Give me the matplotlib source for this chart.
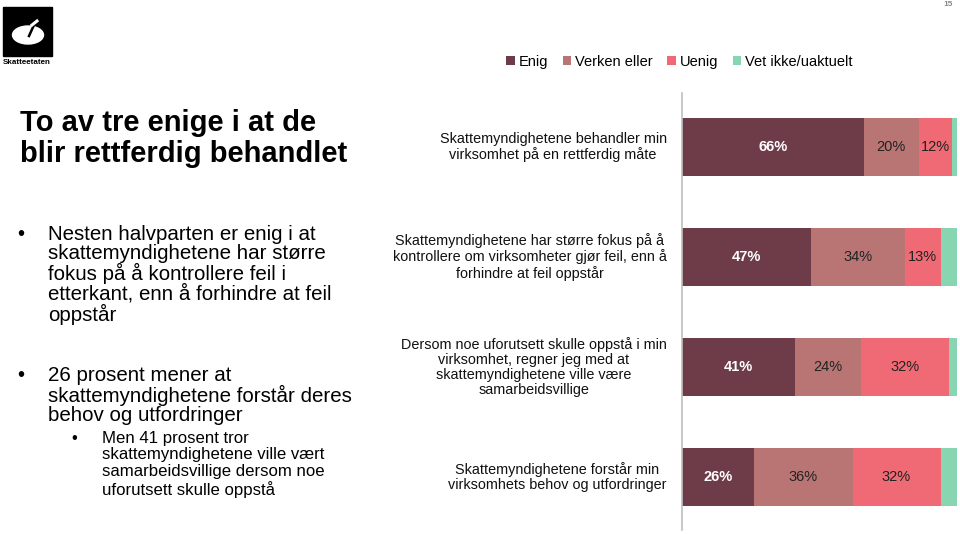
import matplotlib.pyplot as plt
from matplotlib.patches import Rectangle, Ellipse

plt.rcParams['font.family'] = ['Liberation Sans', 'DejaVu Sans']

# Survey statements (top to bottom) and answer shares in percent
statements = [
    'Skattemyndighetene behandler min\nvirksomhet på en rettferdig måte',
    'Skattemyndighetene har større fokus på å\nkontrollere om virksomheter gjør feil, enn å\nforhindre at feil oppstår',
    'Dersom noe uforutsett skulle oppstå i min\nvirksomhet, regner jeg med at\nskattemyndighetene ville være\nsamarbeidsvillige',
    'Skattemyndighetene forstår min\nvirksomhets behov og utfordringer',
]
categories = ['Enig', 'Verken eller', 'Uenig', 'Vet ikke/uaktuelt']
enig = [66, 47, 41, 26]
verken = [20, 34, 24, 36]
uenig = [12, 13, 32, 32]
vet_ikke = [2, 6, 3, 6]

colors = ['#6E3B48', '#B97474', '#EF6A74', '#88D6B1']
label_colors = ['white', '#222222', '#222222', '#222222']

W, H = 960, 534
fig = plt.figure(figsize=(W / 100, H / 100), dpi=100)

def fx(px):
    return px / W

def fy(py):
    return 1 - py / H

# chart area
ax = fig.add_axes([fx(682), fy(530), fx(957) - fx(682), fy(93) - fy(530)])
series = [enig, verken, uenig, vet_ikke]
ypos = list(range(len(statements)))
left = [0] * len(statements)
for vals, name, col, lcol in zip(series, categories, colors, label_colors):
    ax.barh(ypos, vals, left=left, height=0.52, color=col, label=name)
    for y, v, l in zip(ypos, vals, left):
        if v >= 10:
            ax.text(l + v / 2, y, f'{v}%', ha='center', va='center', color=lcol,
                    fontsize=10.5, fontweight='bold' if lcol == 'white' else 'normal')
    left = [a + b for a, b in zip(left, vals)]

ax.set_xlim(0, 100)
ax.set_ylim(3.482, -0.491)
ax.set_xticks([])
ax.set_yticks([])
for s in ['top', 'right', 'bottom']:
    ax.spines[s].set_visible(False)
ax.spines['left'].set_color('#BFBFBF')
ax.spines['left'].set_linewidth(1.2)

for y, txt in zip(ypos, statements):
    ax.annotate(txt, xy=(0, y), xytext=(-11, 0), textcoords='offset points',
                ha='right', va='center', multialignment='center',
                fontsize=10.4, color='#111111', linespacing=1.12,
                annotation_clip=False)

# legend
handles, labels = ax.get_legend_handles_labels()
fig.legend(handles, labels, loc='center left', bbox_to_anchor=(fx(493), fy(62)),
           ncol=4, frameon=False, fontsize=10.5, handlelength=0.6,
           handleheight=0.6, handletextpad=0.25, columnspacing=1.0)

# title and bullet text
fig.text(fx(20), fy(109), 'To av tre enige i at de\nblir rettferdig behandlet',
         ha='left', va='top', fontsize=21, fontweight='bold', linespacing=1.12)

fig.text(fx(17), fy(225), '•', ha='left', va='top', fontsize=14.5)
fig.text(fx(48), fy(225),
         'Nesten halvparten er enig i at\nskattemyndighetene har større\n'
         'fokus på å kontrollere feil i\netterkant, enn å forhindre at feil\noppstår',
         ha='left', va='top', fontsize=14.8, linespacing=1.0)
fig.text(fx(17), fy(366), '•', ha='left', va='top', fontsize=14.5)
fig.text(fx(48), fy(366),
         '26 prosent mener at\nskattemyndighetene forstår deres\nbehov og utfordringer',
         ha='left', va='top', fontsize=14.8, linespacing=1.0)
fig.text(fx(71), fy(431), '•', ha='left', va='top', fontsize=12)
fig.text(fx(102), fy(431),
         'Men 41 prosent tror\nskattemyndighetene ville vært\n'
         'samarbeidsvillige dersom noe\nuforutsett skulle oppstå',
         ha='left', va='top', fontsize=12.1, linespacing=1.12)

# logo
fig.add_artist(Rectangle((fx(3), fy(56)), fx(49), fy(7) - fy(56),
                         transform=fig.transFigure, color='black'))
fig.add_artist(Ellipse((fx(28), fy(35)), fx(31), fy(26) - fy(44),
                       transform=fig.transFigure, color='white'))
fig.add_artist(plt.Line2D([fx(29), fx(34)], [fy(36), fy(25)],
                          transform=fig.transFigure, color='black', lw=1.8))
fig.add_artist(plt.Line2D([fx(32), fx(37)], [fy(25), fy(21)],
                          transform=fig.transFigure, color='white', lw=2.2))
fig.text(fx(27), fy(62), 'Skatteetaten', ha='center', va='center',
         fontsize=5.8, fontweight='bold')

fig.text(fx(953), fy(5), '15', ha='right', va='center', fontsize=6,
         color='#888888', fontweight='bold')

fig.savefig('out.png', dpi=100)
